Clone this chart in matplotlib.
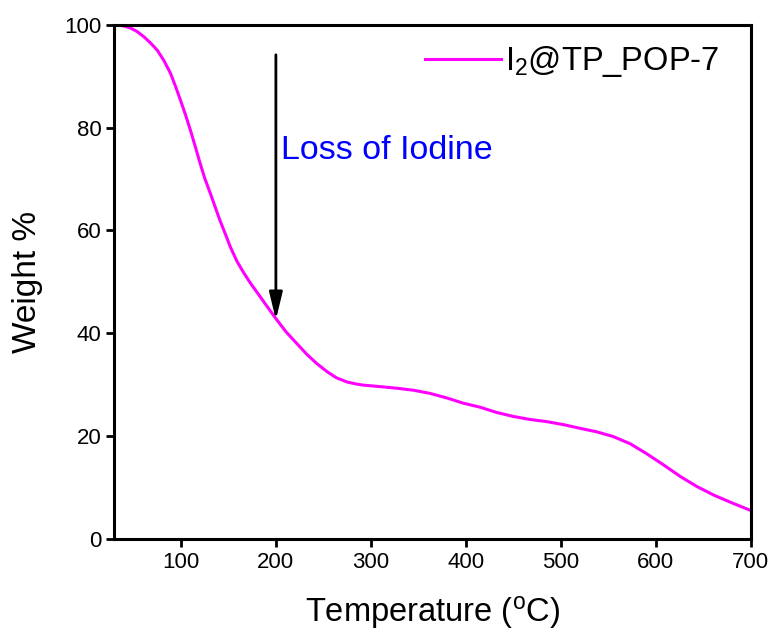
import numpy as np
import matplotlib
matplotlib.use('Agg')
import matplotlib.pyplot as plt

plt.rcParams['font.family'] = ['Liberation Sans', 'DejaVu Sans']
plt.rcParams['mathtext.fontset'] = 'custom'
plt.rcParams['mathtext.rm'] = 'Liberation Sans'
plt.rcParams['mathtext.it'] = 'Liberation Sans:italic'

# TGA curve
temp = [30, 33, 40, 47, 54, 61, 68, 75, 82, 89, 95, 100, 105, 110, 115, 120,
        125, 131, 136, 141, 147, 152, 159, 166, 173, 180, 190, 201, 211, 222,
        232, 243, 254, 264, 275, 285, 292, 310, 327, 345, 362, 380, 397, 415,
        432, 450, 468, 485, 503, 520, 538, 555, 573, 590, 608, 626, 643, 661,
        680, 700]
weight = [100, 100, 99.8, 99.4, 98.7, 97.7, 96.5, 95.1, 93.1, 90.6, 87.7, 85.1,
          82.4, 79.5, 76.4, 73.2, 70.2, 67.2, 64.6, 62.0, 59.2, 56.8, 54.0, 51.8,
          49.8, 48.0, 45.4, 42.6, 40.2, 38.0, 36.0, 34.1, 32.5, 31.3, 30.5, 30.1,
          29.9, 29.6, 29.3, 28.9, 28.3, 27.4, 26.4, 25.6, 24.6, 23.8, 23.2, 22.8,
          22.2, 21.5, 20.8, 19.9, 18.5, 16.6, 14.4, 12.1, 10.2, 8.5, 7.0, 5.5]
label = r'I$_2$@TP_POP-7'

fig = plt.figure(figsize=(7.75, 6.34), dpi=100)
ax = fig.add_axes([0.1477, 0.1503, 0.8209, 0.8103])

ax.plot(temp, weight, color='#ff00ff', lw=2.2, label=label,
        solid_joinstyle='round')

ax.set_xlim(30, 700)
ax.set_ylim(0, 100)
ax.set_xticks([100, 200, 300, 400, 500, 600, 700])
ax.set_yticks([0, 20, 40, 60, 80, 100])
ax.tick_params(direction='out', length=5.5, width=2, labelsize=16, pad=4)
for s in ax.spines.values():
    s.set_linewidth(2.2)

ax.set_xlabel(r'Temperature ($^{\mathrm{o}}$C)', fontsize=23.5, labelpad=15)
ax.set_ylabel('Weight %', fontsize=24, labelpad=15)

# arrow + annotation
ax.annotate('', xy=(200, 42.6), xytext=(200, 94.2),
            arrowprops=dict(arrowstyle='-|>,head_length=0.83,head_width=0.2',
                            color='black', lw=2, mutation_scale=20,
                            shrinkA=0, shrinkB=0))
ax.text(205, 75.6, 'Loss of Iodine', color='#0000ff', fontsize=24.5, va='center')

ax.legend(loc='upper right', frameon=False, fontsize=23.5, handlelength=2.33,
          handletextpad=0.1, bbox_to_anchor=(0.996, 1.02))

plt.savefig('out.png', dpi=100)
